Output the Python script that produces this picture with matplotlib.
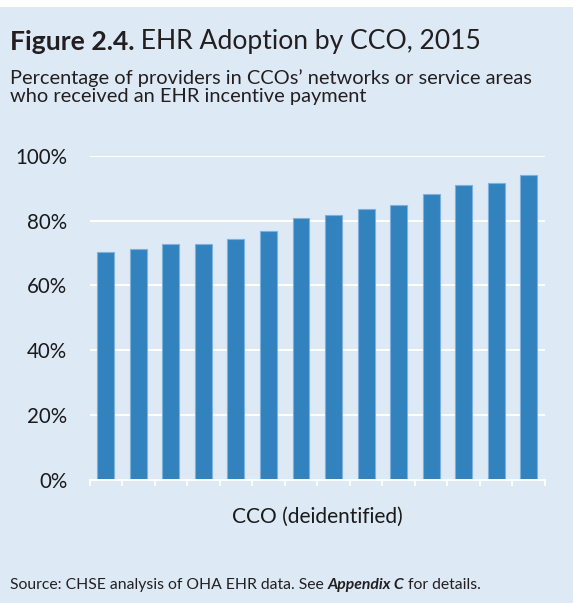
import numpy as np
import matplotlib
matplotlib.use("Agg")
import matplotlib.pyplot as plt
from matplotlib.patches import Rectangle

plt.rcParams['font.family'] = ['Lato', 'DejaVu Sans']

# values (share of providers with an EHR incentive payment)
ccos = list(range(1, 15))
adoption = [70.2, 71.3, 72.8, 72.8, 74.3, 76.8, 80.7, 81.7, 83.7, 84.8, 88.3, 91.1, 91.5, 94.2]
yticks = [0, 20, 40, 60, 80, 100]
ytick_labels = ['0%', '20%', '40%', '60%', '80%', '100%']

bg = '#dde9f5'
bar_color = '#3282be'
W, H = 573, 603

fig = plt.figure(figsize=(W / 100, H / 100), dpi=100)
fig.patch.set_facecolor(bg)
# white strip along the top
fig.patches.append(Rectangle((0, 1 - 7 / H), 1, 7 / H, transform=fig.transFigure,
                             facecolor='white', edgecolor='none', zorder=0))

ax = fig.add_axes([89.5 / W, (H - 479.5) / H, (545 - 89.5) / W, (479.5 - 156) / H])
ax.set_facecolor(bg)

x = np.arange(len(ccos))
ax.bar(x, adoption, width=0.52, color=bar_color, edgecolor='#7fb1dc', linewidth=0.8, zorder=3)

ax.set_xlim(-0.5, len(ccos) - 0.5)
ax.set_ylim(0, 100)
ax.set_yticks(yticks)
ax.set_yticklabels(ytick_labels, fontsize=14.8, color='#1a1a1a')
ax.tick_params(axis='y', length=0, pad=16)
ax.set_xticks(np.arange(-0.5, len(ccos)))
ax.tick_params(axis='x', length=4.3, width=1.3, color='white', labelbottom=False, direction='out')
ax.grid(axis='y', color='white', linewidth=1.4, zorder=1)
for s in ['top', 'right', 'left']:
    ax.spines[s].set_visible(False)
ax.spines['bottom'].set_color('white')
ax.spines['bottom'].set_linewidth(1.4)
ax.spines['bottom'].set_zorder(4)

fig.text(317 / W, 1 - 522.7 / H, 'CCO (deidentified)', ha='center', va='baseline',
         fontsize=15, color='#1a1a1a')

fig.canvas.draw()
r = fig.canvas.get_renderer()

def pieces(x0, y0, parts):
    # put text runs side by side on one baseline
    xx = x0 / W
    for txt, kw in parts:
        t = fig.text(xx, 1 - y0 / H, txt, ha='left', va='baseline', **kw)
        bb = t.get_window_extent(r)
        xx = bb.x1 / (W * fig.dpi / 100)

pieces(10, 49.5, [('Figure 2.4.', dict(fontsize=19.1, fontweight='bold', color='#231f20')),
                  (' EHR Adoption by CCO, 2015', dict(fontsize=19.1, color='#231f20'))])

fig.text(10 / W, 1 - 84 / H, 'Percentage of providers in CCOs\u2019 networks or service areas',
         ha='left', va='baseline', fontsize=14.4, color='#231f20')
fig.text(10 / W, 1 - 102 / H, 'who received an EHR incentive payment',
         ha='left', va='baseline', fontsize=14.4, color='#231f20')

pieces(10, 589, [('Source: CHSE analysis of OHA EHR data. See ', dict(fontsize=11.3, color='#231f20')),
                 ('Appendix C', dict(fontsize=11.3, fontweight='bold', fontstyle='italic', color='#231f20')),
                 (' for details.', dict(fontsize=11.3, color='#231f20'))])

fig.savefig('out.png', dpi=100, facecolor=bg)
